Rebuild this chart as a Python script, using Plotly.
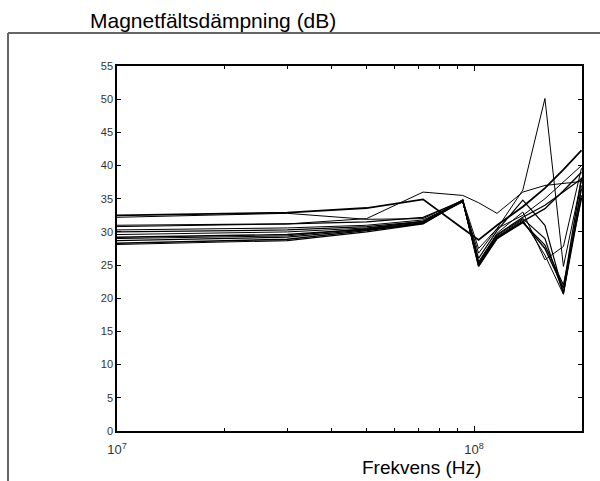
import plotly.graph_objects as go

# Frequencies (MHz) of the measurement points
freq_mhz = [10, 30, 50, 72, 93, 103, 116, 137, 158, 178, 200]

# Attenuation series (dB)
s_a = [32.5, 32.9, 33.6, 34.9, 30.5, 28.8, 31.0, 33.8, 36.6, 39.4, 42.3]
s_b = [30.8, 31.2, 32.0, 36.0, 35.5, 34.4, 32.8, 36.0, 37.0, 37.3, 37.6]
s_c = [32.2, 32.8, 31.9, 32.0, 34.8, 27.5, 30.5, 36.3, 50.1, 24.8, 37.8]
s_d = [31.0, 31.2, 31.5, 32.2, 34.7, 26.0, 30.2, 34.8, 31.0, 20.8, 36.5]
s_e = [30.3, 30.6, 31.0, 31.8, 34.6, 25.5, 29.8, 33.0, 25.8, 27.8, 39.6]
s_f = [30.0, 30.3, 30.8, 31.6, 34.7, 25.2, 29.5, 32.0, 29.0, 20.7, 35.5]
s_g = [29.6, 30.0, 30.6, 31.5, 34.6, 25.0, 29.3, 31.8, 26.5, 20.6, 37.0]
s_h = [29.2, 29.6, 30.4, 31.4, 34.8, 24.8, 29.0, 31.5, 27.5, 21.5, 38.2]
s_i = [29.0, 29.4, 30.5, 31.6, 34.5, 26.8, 30.5, 32.5, 35.0, 37.5, 40.0]
s_j = [28.7, 29.2, 30.3, 31.3, 34.6, 25.3, 29.6, 32.2, 34.0, 36.0, 38.0]
s_k = [28.3, 28.9, 30.2, 31.3, 34.8, 24.9, 29.2, 31.6, 33.5, 36.2, 39.0]
s_l = [28.1, 28.7, 30.0, 31.2, 34.7, 25.1, 29.0, 31.4, 28.0, 22.0, 35.0]

series = [s_a, s_b, s_c, s_d, s_e, s_f, s_g, s_h, s_i, s_j, s_k, s_l]
widths = [1.8, 1.0, 1.0, 1.2, 1.0, 1.2, 1.0, 1.4, 1.0, 1.2, 1.4, 1.2]

y_ticks = [0, 5, 10, 15, 20, 25, 30, 35, 40, 45, 50, 55]
x_major = [1e7, 1e8]
x_major_text = ["10<sup>7</sup>", "10<sup>8</sup>"]
x_minor = [2e7, 3e7, 4e7, 5e7, 6e7, 7e7, 8e7, 9e7, 2e8]

freq_hz = [f * 1e6 for f in freq_mhz]

fig = go.Figure()
for s, w in zip(series, widths):
    fig.add_trace(go.Scatter(x=freq_hz, y=s, mode="lines",
                             line=dict(color="black", width=w),
                             showlegend=False, hoverinfo="skip"))

fig.update_layout(
    width=600, height=481,
    margin=dict(l=117, r=18, t=66, b=50),
    paper_bgcolor="white", plot_bgcolor="white",
    font=dict(family="Liberation Sans, Arial, sans-serif", color="#222"),
    showlegend=False,
)
fig.update_xaxes(type="log", range=[7, 8.3025], showgrid=False, zeroline=False,
                 tickmode="array", tickvals=x_major, ticktext=x_major_text,
                 ticks="inside", ticklen=5, tickcolor="black",
                 minor=dict(tickmode="array", tickvals=x_minor, ticks="inside",
                            ticklen=3, tickcolor="black", showgrid=False),
                 showline=True, linecolor="black", linewidth=1.5, mirror="ticks",
                 ticklabelstandoff=6,
                 tickfont=dict(size=13, color="#333"))
fig.update_yaxes(range=[0, 55], showgrid=False, zeroline=False,
                 tickvals=y_ticks, ticks="inside", ticklen=4, tickcolor="black",
                 showline=True, linecolor="black", linewidth=1.5, mirror="ticks",
                 tickfont=dict(size=11, color="#333"))

# outer frame (left and top edges)
fig.add_shape(type="line", xref="paper", yref="paper",
              x0=(8 - 117) / 465, x1=(8 - 117) / 465,
              y0=(431 - 33) / 365, y1=(431 - 490) / 365,
              line=dict(color="#666", width=2))
fig.add_shape(type="line", xref="paper", yref="paper",
              x0=(8 - 117) / 465, x1=(610 - 117) / 465,
              y0=(431 - 33) / 365, y1=(431 - 33) / 365,
              line=dict(color="#666", width=2))

fig.add_annotation(text="Magnetfältsdämpning (dB)", xref="paper", yref="paper",
                   x=(88 - 117) / 465, y=(431 - 20.5) / 365, xanchor="left", yanchor="middle",
                   showarrow=False, font=dict(size=21, color="black"))
fig.add_annotation(text="Frekvens (Hz)", xref="paper", yref="paper",
                   x=(421 - 117) / 465, y=(431 - 468) / 365, xanchor="center", yanchor="middle",
                   showarrow=False, font=dict(size=19, color="black"))

fig.write_html("out.html")
